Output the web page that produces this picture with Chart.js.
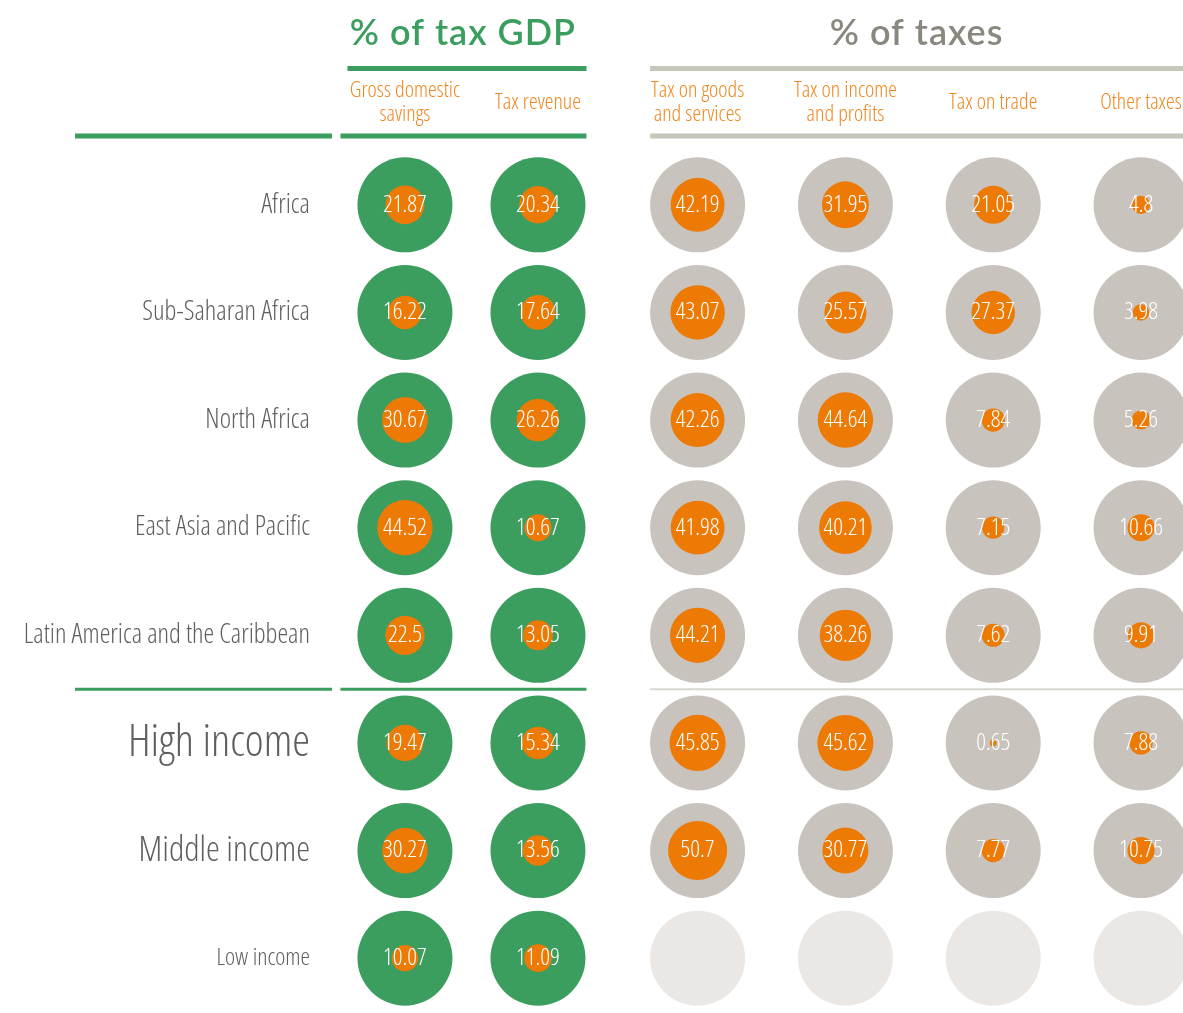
<!DOCTYPE html>
<html>
<head>
<meta charset="utf-8">
<script src="https://cdn.jsdelivr.net/npm/chart.js@4/dist/chart.umd.min.js"></script>
<style>
  html, body { margin: 0; padding: 0; background: #ffffff; }
  #wrap { width: 1183px; height: 1013px; position: relative; }
</style>
</head>
<body>
<div id="wrap"><canvas id="chart"></canvas></div>
<script>
// ---- data ----
const regions = [
  'Africa',
  'Sub-Saharan Africa',
  'North Africa',
  'East Asia and Pacific',
  'Latin America and the Caribbean',
  'High income',
  'Middle income',
  'Low income'
];
const groupTitles = ['% of tax GDP', '% of taxes'];
const columnLabels = [
  ['Gross domestic', 'savings'],
  'Tax revenue',
  ['Tax on goods', 'and services'],
  ['Tax on income', 'and profits'],
  'Tax on trade',
  'Other taxes'
];
// % of GDP
const grossDomesticSavings = [21.87, 16.22, 30.67, 44.52, 22.5, 19.47, 30.27, 10.07];
const taxRevenue           = [20.34, 17.64, 26.26, 10.67, 13.05, 15.34, 13.56, 11.09];
// % of taxes (no figures for low income)
const taxGoodsServices = [42.19, 43.07, 42.26, 41.98, 44.21, 45.85, 50.7, null];
const taxIncomeProfits = [31.95, 25.57, 44.64, 40.21, 38.26, 45.62, 30.77, null];
const taxTrade         = [21.05, 27.37, 7.84, 7.15, 7.62, 0.65, 7.77, null];
const otherTaxes       = [4.8, 3.98, 5.26, 10.66, 9.91, 7.88, 10.75, null];

const columns = [grossDomesticSavings, taxRevenue, taxGoodsServices, taxIncomeProfits, taxTrade, otherTaxes];
const GDP_COLUMNS = 2; // first two columns belong to "% of tax GDP"

// ---- styles / layout ----
const GREEN = '#3b9e5f';
const ORANGE = '#ec7a05';
const HEAD_ORANGE = '#f0861e';
const GREY_BUBBLE = '#c9c3be';
const EMPTY_BUBBLE = '#ebe7e4';
const GREY_RULE = '#c6c6ba';
const GREY_RULE_LIGHT = '#d8d6ce';
const TITLE_GREY = '#8a877e';
const LABEL_GREY = '#5f5f5f';
const NARROW = '"Open Sans", "Noto Sans", sans-serif';
const rowLabelSizes = [27, 27, 27, 27, 27, 45, 35, 24];
const OUTER_R = 47.5;
const AREA_K = 4.15;            // inner radius = K * sqrt(value): area proportional to value
const colX = i => i < GDP_COLUMNS ? i * 0.9 : 1.98 + (i - GDP_COLUMNS);
const X_MIN = -0.507, X_MAX = 5.264;

// ---- datasets built from the arrays above ----
function points(colFilter) {
  const out = [];
  columns.forEach((col, c) => {
    if (!colFilter(c)) return;
    col.forEach((v, r) => out.push({ x: colX(c), y: regions[r], v }));
  });
  return out;
}
const innerPoints = points(() => true).filter(p => p.v !== null);

const valueLabels = {
  id: 'valueLabels',
  afterDatasetsDraw(chart) {
    const meta = chart.getDatasetMeta(0);
    const ctx = chart.ctx;
    ctx.save();
    ctx.fillStyle = '#ffffff';
    ctx.font = 'condensed 350 24px ' + NARROW;
    ctx.textAlign = 'center';
    ctx.textBaseline = 'middle';
    meta.data.forEach((el, i) => {
      const p = chart.data.datasets[0].data[i];
      ctx.fillText(String(p.v), el.x, el.y);
    });
    ctx.restore();
  }
};

const frame = {
  id: 'frame',
  beforeDatasetsDraw(chart) {
    const ctx = chart.ctx;
    const xs = chart.scales.x, ys = chart.scales.y;
    const area = chart.chartArea;
    const gL = xs.getPixelForValue(colX(0)) - OUTER_R;
    const gR = xs.getPixelForValue(colX(GDP_COLUMNS - 1)) + OUTER_R + 1;
    const tL = xs.getPixelForValue(colX(GDP_COLUMNS)) - OUTER_R;
    const tR = chart.width;
    const topY = xs.top + 0.5;
    const headY = area.top - 15;
    const sepY = (ys.getPixelForValue(4) + ys.getPixelForValue(5)) / 2;
    const line = (x1, x2, y, w, c) => {
      ctx.beginPath();
      ctx.moveTo(x1, y); ctx.lineTo(x2, y);
      ctx.lineWidth = w; ctx.strokeStyle = c; ctx.stroke();
    };
    ctx.save();
    // group heading rules
    line(gL - 10, gR, topY, 5, GREEN);
    line(gL - 17, gR, headY, 5, GREEN);
    line(75, area.left + 2, headY, 5, GREEN);
    line(tL, tR, topY, 5, GREY_RULE);
    line(tL, tR, headY, 5, GREY_RULE);
    // regions / income groups separator
    line(75, area.left + 2, sepY, 3, GREEN);
    line(gL - 17, gR, sepY, 3, GREEN);
    line(tL, tR, sepY, 2, GREY_RULE_LIGHT);
    // group titles
    ctx.textAlign = 'center';
    ctx.textBaseline = 'alphabetic';
    ctx.font = '600 36px Lato, "Open Sans", sans-serif';
    ctx.letterSpacing = '1px';
    ctx.fillStyle = GREEN;
    ctx.fillText(groupTitles[0], (gL - 10 + gR) / 2 - 4, 45);
    ctx.fillStyle = TITLE_GREY;
    ctx.fillText(groupTitles[1], (tL + tR) / 2, 45);
    ctx.restore();
  }
};

new Chart(document.getElementById('chart'), {
  type: 'bubble',
  data: {
    datasets: [
      {
        label: 'value',
        data: innerPoints,
        backgroundColor: ORANGE,
        borderWidth: 0,
        radius: ctx => AREA_K * Math.sqrt(ctx.raw.v),
        hoverRadius: 0,
        clip: false,
        order: 1
      },
      {
        label: '% of tax GDP',
        data: points(c => c < GDP_COLUMNS),
        backgroundColor: GREEN,
        borderWidth: 0,
        radius: OUTER_R,
        hoverRadius: 0,
        clip: false,
        order: 2
      },
      {
        label: '% of taxes',
        data: points(c => c >= GDP_COLUMNS),
        backgroundColor: ctx => ctx.raw && ctx.raw.v === null ? EMPTY_BUBBLE : GREY_BUBBLE,
        borderWidth: 0,
        radius: OUTER_R,
        hoverRadius: 0,
        clip: false,
        order: 2
      }
    ]
  },
  options: {
    responsive: true,
    maintainAspectRatio: false,
    animation: false,
    events: [],
    layout: { autoPadding: false, padding: { top: 68, right: 0, bottom: 1, left: 0 } },
    plugins: { legend: { display: false }, tooltip: { enabled: false } },
    scales: {
      x: {
        type: 'linear',
        position: 'top',
        min: X_MIN,
        max: X_MAX,
        grid: { display: false, drawTicks: false },
        border: { display: false },
        afterBuildTicks: s => { s.ticks = columnLabels.map((_, i) => ({ value: colX(i) })); },
        afterFit: s => { s.height = 83; s.paddingLeft = 0; s.paddingRight = 0; },
        ticks: {
          autoSkip: false,
          maxRotation: 0,
          minRotation: 0,
          crossAlign: 'center',
          padding: 36,
          color: HEAD_ORANGE,
          font: { family: NARROW, size: 22, weight: 'condensed 300', lineHeight: 1.1 },
          callback: (v, i) => columnLabels[i]
        }
      },
      y: {
        type: 'category',
        labels: regions,
        offset: true,
        grid: { display: false, drawTicks: false },
        border: { display: false },
        afterFit: s => { s.width = 330; s.paddingTop = 0; s.paddingBottom = 0; },
        ticks: {
          autoSkip: false,
          padding: 20,
          color: LABEL_GREY,
          font: ctx => ({ family: NARROW, size: rowLabelSizes[ctx.index], weight: 'condensed 300' })
        }
      }
    }
  },
  plugins: [frame, valueLabels]
});
</script>
</body>
</html>
